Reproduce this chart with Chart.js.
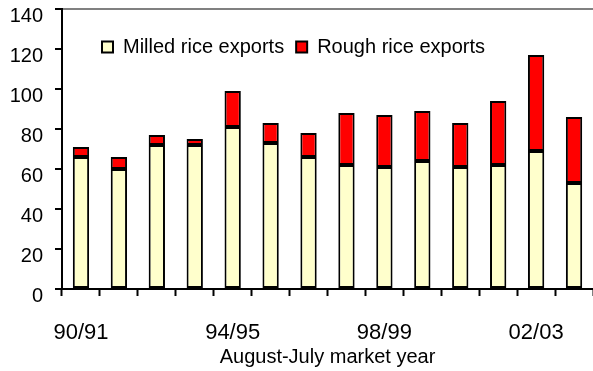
<!DOCTYPE html>
<html>
<head>
<meta charset="utf-8">
<title>Rice exports</title>
<script src="https://cdn.jsdelivr.net/npm/chart.js@4/dist/chart.umd.min.js"></script>
<style>
  html, body { margin: 0; padding: 0; background: #fff; }
  #wrap { width: 593px; height: 371px; }
</style>
</head>
<body>
<div id="wrap"><canvas id="bar-chart"></canvas></div>
<script>
// market years, August-July
const years = ['90/91', '91/92', '92/93', '93/94', '94/95', '95/96', '96/97',
               '97/98', '98/99', '99/00', '00/01', '01/02', '02/03', '03/04'];
// exports, stacked: milled at the bottom, rough on top
const milled = [66, 60, 72, 72, 81, 73, 66, 62, 61, 64, 61, 62, 69, 53];
const rough  = [5, 6, 5, 3, 18, 10, 12, 26, 26, 25, 22, 32, 48, 33];
const yTicks = [0, 20, 40, 60, 80, 100, 120, 140];

const FONT = 'Liberation Sans, Arial, sans-serif';
Chart.defaults.font.family = FONT;
Chart.defaults.color = '#000';

// legend sits inside the plot area on one row
const legendInside = {
    id: 'legendInside',
    beforeLayout(chart) {
        if (chart.legend) chart.legend.isHorizontal = () => true;
    },
    afterLayout(chart) {
        const lg = chart.legend;
        const w = lg.right - lg.left;
        lg.left = chart.chartArea.left + 28;
        lg.right = lg.left + w;
        lg.top += 16; lg.bottom += 16;
    }
};

const ctx = document.getElementById('bar-chart').getContext('2d');
new Chart(ctx, {
    type: 'bar',
    data: {
        labels: years,
        datasets: [{
            label: 'Milled rice exports',
            data: milled,
            backgroundColor: '#FFFFCC',
            borderColor: '#000',
            borderWidth: 2,
            borderSkipped: false
        }, {
            label: 'Rough rice exports',
            data: rough,
            backgroundColor: '#FF0000',
            borderColor: '#000',
            borderWidth: 2,
            borderSkipped: false
        }]
    },
    options: {
        responsive: true,
        maintainAspectRatio: false,
        animation: false,
        layout: { padding: { top: 9, right: 0, left: 0, bottom: 0 } },
        datasets: { bar: { categoryPercentage: 1, barPercentage: 0.43 } },
        plugins: {
            tooltip: { enabled: false },
            legend: {
                position: 'chartArea',
                align: 'start',
                labels: {
                    boxWidth: 11,
                    boxHeight: 11,
                    padding: 12,
                    color: '#000',
                    font: { size: 20, family: FONT }
                }
            }
        },
        scales: {
            x: {
                stacked: true,
                afterFit(s) { s.height = 82; s.paddingLeft = 0; s.paddingRight = 0; },
                border: { color: '#000', width: 2 },
                grid: { drawOnChartArea: false, tickLength: 7, tickColor: '#000', tickWidth: 2 },
                ticks: {
                    autoSkip: false,
                    maxRotation: 0,
                    padding: 24,
                    font: { size: 22 },
                    callback: (v, i) => (i % 4 === 0 ? years[i] : '')
                },
                title: {
                    display: true,
                    text: 'August-July market year',
                    font: { size: 20 },
                    padding: { top: 0, bottom: 2 }
                }
            },
            y: {
                stacked: true,
                min: 0,
                max: 140,
                afterFit(s) { s.width = 62; s.paddingTop = 0; s.paddingBottom = 0; },
                afterBuildTicks(s) { s.ticks = yTicks.map(v => ({ value: v })); },
                border: { color: '#000', width: 2 },
                grid: {
                    color: c => (c.tick && c.tick.value === 140 ? '#808080' : 'rgba(0,0,0,0)'),
                    lineWidth: 2,
                    tickLength: 7,
                    tickColor: '#000',
                    tickWidth: 2
                },
                ticks: {
                    padding: 12,
                    labelOffset: 7,
                    font: { size: 20 }
                }
            }
        }
    },
    plugins: [legendInside]
});
</script>
</body>
</html>
